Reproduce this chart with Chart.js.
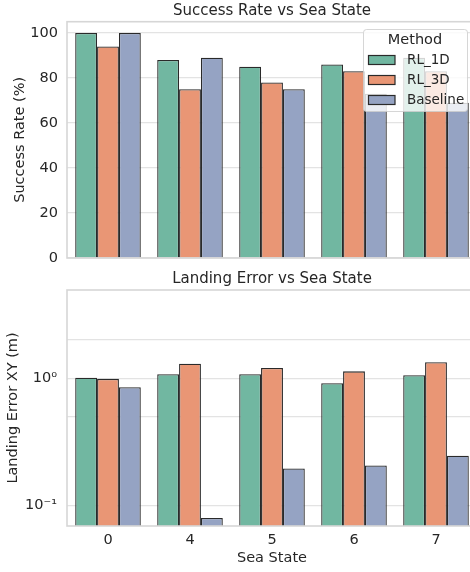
<!DOCTYPE html>
<html>
<head>
<meta charset="utf-8">
<script src="https://cdn.jsdelivr.net/npm/chart.js@4.4.1/dist/chart.umd.min.js"></script>
<style>
  html, body { margin: 0; padding: 0; background: #ffffff; }
  #page { width: 470px; height: 572px; overflow: hidden; position: relative; }
  .panel { position: absolute; left: 0; width: 480px; }
  #top { top: 0; height: 270px; }
  #bottom { top: 270px; height: 302px; }
</style>
</head>
<body>
<div id="page">
  <div class="panel" id="top"><canvas id="successChart" width="480" height="270"></canvas></div>
  <div class="panel" id="bottom"><canvas id="errorChart" width="480" height="302"></canvas></div>
</div>
<script>
// Sea states tested
const seaStates = ['0', '4', '5', '6', '7'];
const methods = ['RL_1D', 'RL_3D', 'Baseline'];

// Success rate (%) per method
const successRL1D = [100, 88, 85, 86, 89];
const successRL3D = [94, 75, 78, 83, 83];
const successBaseline = [100, 89, 75, 73, 69];

// Horizontal landing error (m) per method
const errorRL1D = [1.01, 1.075, 1.075, 0.913, 1.056];
const errorRL3D = [0.99, 1.30, 1.205, 1.134, 1.335];
const errorBaseline = [0.85, 0.08, 0.196, 0.207, 0.247];

// Axis ticks
const successTicks = [0, 20, 40, 60, 80, 100];
const errorGridTicks = [0.1, 0.5, 1, 2];
const errorTickLabels = { 0.1: '10\u207B\u00B9', 1: '10\u2070' };

const colors = ['#71b7a1', '#e99675', '#95a3c3'];
const edge = '#2a2a2a';
const gridColor = '#e3e3e3';
const frameColor = '#d6d6d6';
const textColor = '#262626';
const FONT = 'DejaVu Sans';
const FS = 14.5;
const TITLE_FS = 15;
const LEGEND_FS = 13.5;

Chart.defaults.font.family = FONT;
Chart.defaults.font.size = FS;
Chart.defaults.color = textColor;

function makeDatasets(series) {
  return series.map((vals, i) => ({
    label: methods[i],
    data: vals,
    backgroundColor: colors[i],
    borderColor: edge,
    borderWidth: 1.3,
    borderSkipped: 'start',
    categoryPercentage: 0.8,
    barPercentage: 1.0
  }));
}

// Fixed-width value axis with no extra label overhang
function fixAxis(scale) {
  scale.width = 67;
  scale.paddingTop = 0;
  scale.paddingBottom = 0;
}

// Light frame around the plotting area, drawn over the bar bases
const framePlugin = {
  id: 'frame',
  afterDatasetsDraw(chart) {
    const { ctx, chartArea: a } = chart;
    ctx.save();
    ctx.strokeStyle = frameColor;
    ctx.lineWidth = 1.6;
    ctx.strokeRect(a.left, a.top, a.right - a.left, a.bottom - a.top);
    ctx.restore();
  }
};

// Boxed legend with a title, drawn inside the upper-right corner of the plot
const boxedLegend = {
  id: 'boxedLegend',
  afterDatasetsDraw(chart) {
    const { ctx } = chart;
    const x0 = 363.5, y0 = 29.5, w = 104, h = 82;
    ctx.save();
    ctx.beginPath();
    ctx.roundRect(x0, y0, w, h, 3);
    ctx.fillStyle = 'rgba(255,255,255,0.8)';
    ctx.fill();
    ctx.strokeStyle = 'rgba(204,204,204,0.8)';
    ctx.lineWidth = 1;
    ctx.stroke();

    ctx.fillStyle = textColor;
    ctx.font = FS + 'px "' + FONT + '"';
    ctx.textAlign = 'center';
    ctx.textBaseline = 'middle';
    ctx.fillText('Method', 415, 40.5);

    ctx.font = LEGEND_FS + 'px "' + FONT + '"';
    chart.data.datasets.forEach((ds, i) => {
      const cy = 60 + i * 20;
      ctx.fillStyle = ds.backgroundColor;
      ctx.fillRect(368.5, cy - 4.5, 26.5, 9);
      ctx.strokeStyle = edge;
      ctx.lineWidth = 1.2;
      ctx.strokeRect(368.5, cy - 4.5, 26.5, 9);
      ctx.fillStyle = textColor;
      ctx.textAlign = 'left';
      ctx.fillText(ds.label, 407, cy + 0.5);
    });
    ctx.restore();
  }
};

new Chart(document.getElementById('successChart'), {
  type: 'bar',
  data: {
    labels: seaStates,
    datasets: makeDatasets([successRL1D, successRL3D, successBaseline])
  },
  plugins: [framePlugin, boxedLegend],
  options: {
    responsive: false,
    animation: false,
    devicePixelRatio: 1,
    layout: { padding: { left: 0, right: 3, top: 0, bottom: 12 } },
    plugins: {
      legend: { display: false },
      tooltip: { enabled: false },
      title: {
        display: true,
        fullSize: false,
        text: 'Success Rate vs Sea State',
        font: { size: TITLE_FS, weight: 'normal' },
        color: textColor,
        padding: { top: 2, bottom: 1.7 }
      }
    },
    scales: {
      x: {
        grid: { display: false, drawTicks: false },
        border: { display: false },
        ticks: { display: false },
        afterFit(scale) { scale.height = 0; }
      },
      y: {
        min: 0,
        max: 105,
        afterBuildTicks(scale) { scale.ticks = successTicks.map(v => ({ value: v })); },
        afterFit: fixAxis,
        grid: { color: gridColor, lineWidth: 1.2, drawTicks: false },
        border: { display: false },
        ticks: { padding: 9, font: { size: FS }, color: textColor },
        title: {
          display: true,
          text: 'Success Rate (%)',
          font: { size: FS },
          color: textColor,
          padding: { top: 11.3, bottom: 0 }
        }
      }
    }
  }
});

new Chart(document.getElementById('errorChart'), {
  type: 'bar',
  data: {
    labels: seaStates,
    datasets: makeDatasets([errorRL1D, errorRL3D, errorBaseline])
  },
  plugins: [framePlugin],
  options: {
    responsive: false,
    animation: false,
    devicePixelRatio: 1,
    layout: { padding: { left: 0, right: 3, top: 0, bottom: 0 } },
    plugins: {
      legend: { display: false },
      tooltip: { enabled: false },
      title: {
        display: true,
        fullSize: false,
        text: 'Landing Error vs Sea State',
        font: { size: TITLE_FS, weight: 'normal' },
        color: textColor,
        padding: { top: 0, bottom: 2 }
      }
    },
    scales: {
      x: {
        grid: { display: false, drawTicks: false },
        border: { display: false },
        ticks: { padding: 6, font: { size: FS }, color: textColor },
        afterFit(scale) { scale.height = 46; },
        title: {
          display: true,
          text: 'Sea State',
          font: { size: FS },
          color: textColor,
          padding: { top: 0, bottom: 5.3 }
        }
      },
      y: {
        type: 'logarithmic',
        min: 0.0693,
        max: 4.93,
        afterBuildTicks(scale) { scale.ticks = errorGridTicks.map(v => ({ value: v })); },
        afterFit: fixAxis,
        grid: { color: gridColor, lineWidth: 1.2, drawTicks: false },
        border: { display: false },
        ticks: {
          padding: 10,
          font: { size: FS },
          color: textColor,
          autoSkip: false,
          callback: (v) => errorTickLabels[v] || ''
        },
        title: {
          display: true,
          text: 'Landing Error XY (m)',
          font: { size: FS },
          color: textColor,
          padding: { top: 4.3, bottom: 0 }
        }
      }
    }
  }
});
</script>
</body>
</html>
